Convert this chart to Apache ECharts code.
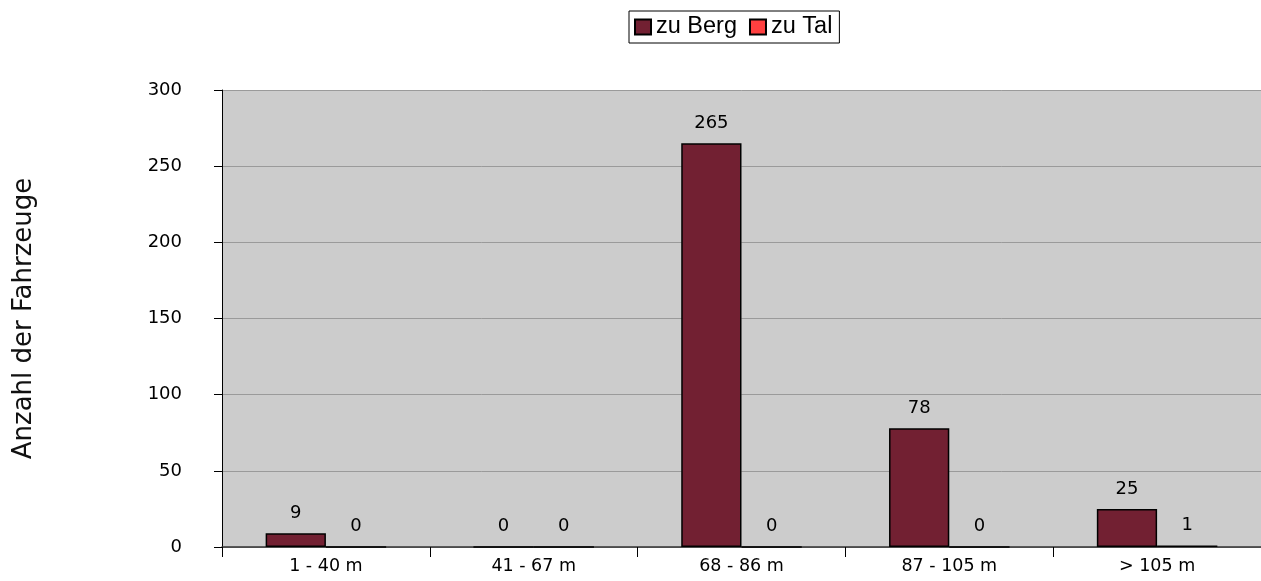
<!DOCTYPE html>
<html>
<head>
<meta charset="utf-8">
<script src="https://cdn.jsdelivr.net/npm/echarts@6/dist/echarts.min.js"></script>
<style>
  html, body { margin: 0; padding: 0; background: #ffffff; }
  #chart { width: 1261px; height: 581px; }
</style>
</head>
<body>
<div id="chart"></div>
<script>
// Vehicle counts per length class, split by direction
const categories = ['1 - 40 m', '41 - 67 m', '68 - 86 m', '87 - 105 m', '> 105 m'];
const zuBerg = [9, 0, 265, 78, 25];
const zuTal = [0, 0, 0, 0, 1];
const yTicks = { min: 0, max: 300, interval: 50 };

const chart = echarts.init(document.getElementById('chart'), null, { renderer: 'canvas' });

const labelStyle = {
  show: true,
  position: 'top',
  distance: 11,
  color: '#000',
  fontFamily: 'DejaVu Sans',
  fontSize: 18
};

chart.setOption({
  animation: false,
  backgroundColor: '#ffffff',
  textStyle: { fontFamily: 'DejaVu Sans' },
  legend: {
    left: 629,
    top: 11,
    padding: [4, 7, 4, 5],
    itemGap: 12,
    itemWidth: 16,
    itemHeight: 15,
    borderColor: '#000',
    borderWidth: 1,
    icon: 'rect',
    textStyle: { fontFamily: 'Liberation Sans', fontSize: 23.5, color: '#000' },
    data: ['zu Berg', 'zu Tal']
  },
  grid: {
    left: 222,
    right: 0,
    top: 90,
    bottom: 34
  },
  xAxis: {
    type: 'category',
    data: categories,
    axisLine: { lineStyle: { color: '#333', width: 1.5 } },
    axisTick: { show: true, length: 10, lineStyle: { color: '#000' } },
    axisLabel: { color: '#000', fontSize: 17.5, fontFamily: 'DejaVu Sans', margin: 10 },
    splitArea: { show: false }
  },
  yAxis: {
    type: 'value',
    min: yTicks.min,
    max: yTicks.max,
    interval: yTicks.interval,
    name: 'Anzahl der Fahrzeuge',
    nameLocation: 'middle',
    nameGap: 185,
    nameRotate: 90,
    nameTextStyle: { color: '#111', fontSize: 26, fontFamily: 'DejaVu Sans' },
    axisLine: { show: true, lineStyle: { color: '#000', width: 1 } },
    axisTick: { show: true, length: 8, lineStyle: { color: '#000' } },
    axisLabel: { color: '#000', fontSize: 18, fontFamily: 'DejaVu Sans', margin: 40 },
    splitLine: { show: true, lineStyle: { color: '#9a9a9a', width: 1 } },
    splitArea: { show: true, areaStyle: { color: ['#cccccc', '#cccccc'] } }
  },
  series: [
    {
      name: 'zu Berg',
      type: 'bar',
      data: zuBerg,
      barGap: '0%',
      barCategoryGap: '42%',
      itemStyle: { color: '#722032', borderColor: '#000', borderWidth: 1.5 },
      label: labelStyle
    },
    {
      name: 'zu Tal',
      type: 'bar',
      data: zuTal,
      barGap: '0%',
      barCategoryGap: '42%',
      itemStyle: { color: '#ff4040', borderColor: '#000', borderWidth: 1.5 },
      label: labelStyle
    }
  ]
});
</script>
</body>
</html>
